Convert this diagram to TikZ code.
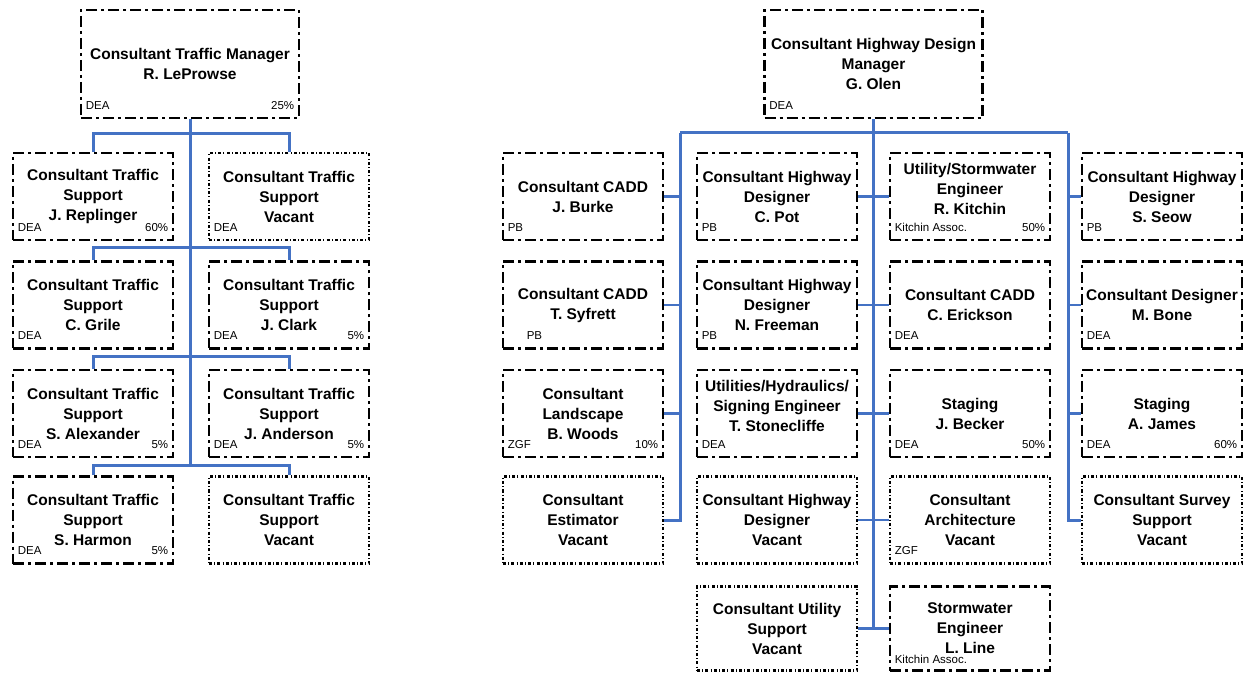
\documentclass[tikz,border=0pt]{standalone}
\usepackage{fontspec}
\setmainfont{Liberation Sans}
\usetikzlibrary{calc}
\definecolor{linkblue}{RGB}{68,114,196}
\begin{document}
\begin{tikzpicture}[x=1pt,y=-1pt,
  box/.style={draw=black, line width=2.8pt,
    dash pattern=on 11pt off 4pt on 3pt off 4pt,
    minimum width=160pt, minimum height=87pt, inner sep=0pt,
    align=center, font=\bfseries\fontsize{15.5}{20}\selectfont},
  vacant/.style={box, dash pattern=on 3pt off 2.2pt on 1pt off 2.2pt},
  mgr/.style={box, minimum width=218pt, minimum height=108pt},
  boxtext/.style={inner sep=0pt, align=center,
    font=\bfseries\fontsize{15.5}{20}\selectfont},
  conn/.style={draw=linkblue, line width=3pt},
  stub/.style={draw=linkblue, line width=2.4pt},
  lab/.style={font=\fontsize{11.5}{13}\selectfont, inner sep=0pt},
  tagL/.style={lab, anchor=base west, xshift=6pt, yshift=10pt},
  tagR/.style={lab, anchor=base east, xshift=-6pt, yshift=10pt},
]
\useasboundingbox (0,0) rectangle (1243,676);

% ---------------- Traffic team ----------------
\node[mgr] (LM) at (190,64) {Consultant Traffic Manager\\R. LeProwse};
\node[tagL] (LMa) at (LM.south west) {DEA};
\node[tagR] (LMb) at (LM.south east) {25\%};

\node[box] (L11) at (93,196.5) {Consultant Traffic\\Support\\J. Replinger};
\node[tagL] (L11a) at (L11.south west) {DEA};
\node[tagR] (L11b) at (L11.south east) {60\%};
\node[vacant] (L12) at (289,196.5) {Consultant Traffic\\Support\\Vacant};
\node[tagL] (L12a) at (L12.south west) {DEA};

\node[box] (L21) at (93,305) {Consultant Traffic\\Support\\C. Grile};
\node[tagL] (L21a) at (L21.south west) {DEA};
\node[box] (L22) at (289,305) {Consultant Traffic\\Support\\J. Clark};
\node[tagL] (L22a) at (L22.south west) {DEA};
\node[tagR] (L22b) at (L22.south east) {5\%};

\node[box] (L31) at (93,413.5) {Consultant Traffic\\Support\\S. Alexander};
\node[tagL] (L31a) at (L31.south west) {DEA};
\node[tagR] (L31b) at (L31.south east) {5\%};
\node[box] (L32) at (289,413.5) {Consultant Traffic\\Support\\J. Anderson};
\node[tagL] (L32a) at (L32.south west) {DEA};
\node[tagR] (L32b) at (L32.south east) {5\%};

\node[box] (L41) at (93,520) {Consultant Traffic\\Support\\S. Harmon};
\node[tagL] (L41a) at (L41.south west) {DEA};
\node[tagR] (L41b) at (L41.south east) {5\%};
\node[vacant] (L42) at (289,520) {Consultant Traffic\\Support\\Vacant};

\coordinate (LB1) at (190,134);
\coordinate (LB2) at (190,248);
\coordinate (LB3) at (190,357);
\coordinate (LB4) at (190,465);
\draw[conn] (LM.south) -- (LB4);
\draw[conn] (L11.north) |- (LB1) -| (L12.north);
\draw[conn] (L21.north) |- (LB2) -| (L22.north);
\draw[conn] (L31.north) |- (LB3) -| (L32.north);
\draw[conn] (L41.north) |- (LB4) -| (L42.north);

% ---------------- Highway design team ----------------
\node[mgr] (RM) at (873.5,64) {Consultant Highway Design\\Manager\\G. Olen};
\node[tagL] (RMa) at (RM.south west) {DEA};

% column A
\node[box] (A1) at (583,196.5) {Consultant CADD\\J. Burke};
\node[tagL] (A1a) at (A1.south west) {PB};
\node[box] (A2) at (583,305) {Consultant CADD\\T. Syfrett};
\node[tagL, xshift=19pt] (A2a) at (A2.south west) {PB};
\node[box] (A3) at (583,413.5) {Consultant\\Landscape\\B. Woods};
\node[tagL] (A3a) at (A3.south west) {ZGF};
\node[tagR] (A3b) at (A3.south east) {10\%};
\node[vacant] (A4) at (583,520) {Consultant\\Estimator\\Vacant};

% column B
\node[box] (B1) at (777,196.5) {Consultant Highway\\Designer\\C. Pot};
\node[tagL] (B1a) at (B1.south west) {PB};
\node[box] (B2) at (777,305) {Consultant Highway\\Designer\\N. Freeman};
\node[tagL] (B2a) at (B2.south west) {PB};
\node[box] (B3) at (777,413.5) {};
\node[boxtext] (B3t) at ($(B3)+(0,-8)$) {Utilities/Hydraulics/\\Signing Engineer\\T. Stonecliffe};
\node[tagL] (B3a) at (B3.south west) {DEA};
\node[vacant] (B4) at (777,520) {Consultant Highway\\Designer\\Vacant};
\node[vacant, minimum height=84pt] (B5) at (777,628.5) {Consultant Utility\\Support\\Vacant};

% column C
\node[box] (C1) at (970,196.5) {};
\node[boxtext] (C1t) at ($(C1)+(0,-8)$) {Utility/Stormwater\\Engineer\\R. Kitchin};
\node[tagL] (C1a) at (C1.south west) {Kitchin Assoc.};
\node[tagR] (C1b) at (C1.south east) {50\%};
\node[box] (C2) at (970,305) {Consultant CADD\\C. Erickson};
\node[tagL] (C2a) at (C2.south west) {DEA};
\node[box] (C3) at (970,413.5) {Staging\\J. Becker};
\node[tagL] (C3a) at (C3.south west) {DEA};
\node[tagR] (C3b) at (C3.south east) {50\%};
\node[vacant] (C4) at (970,520) {Consultant\\Architecture\\Vacant};
\node[tagL] (C4a) at (C4.south west) {ZGF};
\node[box, minimum height=84pt] (C5) at (970,628.5) {Stormwater\\Engineer\\L. Line};
\node[tagL, yshift=-2pt] (C5a) at (C5.south west) {Kitchin Assoc.};

% column D
\node[box] (D1) at (1162,196.5) {Consultant Highway\\Designer\\S. Seow};
\node[tagL] (D1a) at (D1.south west) {PB};
\node[box] (D2) at (1162,305) {Consultant Designer\\M. Bone};
\node[tagL] (D2a) at (D2.south west) {DEA};
\node[box] (D3) at (1162,413.5) {Staging\\A. James};
\node[tagL] (D3a) at (D3.south west) {DEA};
\node[tagR] (D3b) at (D3.south east) {60\%};
\node[vacant] (D4) at (1162,520) {Consultant Survey\\Support\\Vacant};

% connectors
\coordinate (SA) at (680,133);
\coordinate (SD) at (1068,133);
\draw[conn] (SA) -- (SD);
\draw[conn] (RM.south) -- (RM.south |- B5.east);
\draw[conn] (SA) -- (SA |- A4.east) -- (A4.east);
\draw[conn] (SD) -- (SD |- D4.west) -- (D4.west);
\foreach \n in {A1,A2,A3} \draw[stub] (\n.east) -- (\n.east -| SA);
\foreach \n in {D1,D2,D3} \draw[stub] (\n.west -| SD) -- (\n.west);
\foreach \l/\r in {B1/C1,B2/C2,B3/C3,B4/C4,B5/C5} \draw[stub] (\l.east) -- (\r.west);
\end{tikzpicture}
\end{document}
